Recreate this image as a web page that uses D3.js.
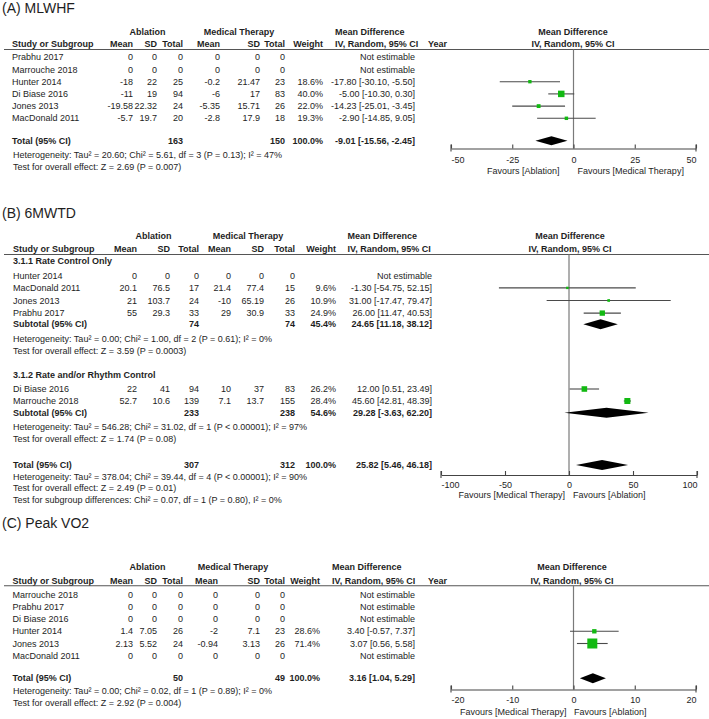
<!DOCTYPE html>
<html><head><meta charset="utf-8">
<script src="https://cdn.jsdelivr.net/npm/d3@7/dist/d3.min.js"></script>
<style>
body{margin:0;background:#fff}
text{font-family:"Liberation Sans",Arial,Helvetica,sans-serif;fill:#1e1e1e}
</style>
</head><body>
<svg id="chart" width="709" height="719"></svg>
<script>
// ---------------- DATA ----------------
const colHeaders = ["Mean","SD","Total","Mean","SD","Total","Weight"];

// (A) MLWHF
const studiesA  = ["Prabhu 2017","Marrouche 2018","Hunter 2014","Di Biase 2016","Jones 2013","MacDonald 2011"];
const ablMeanA  = [0, 0, -18, -11, -19.58, -5.7];
const ablSDA    = [0, 0, 22, 19, 22.32, 19.7];
const ablNA     = [0, 0, 25, 94, 24, 20];
const medMeanA  = [0, 0, -0.2, -6, -5.35, -2.8];
const medSDA    = [0, 0, 21.47, 17, 15.71, 17.9];
const medNA     = [0, 0, 23, 83, 26, 18];
const weightA   = [null, null, 18.6, 40.0, 22.0, 19.3];
const mdA       = [null, null, -17.80, -5.00, -14.23, -2.90];
const loA       = [null, null, -30.10, -10.30, -25.01, -14.85];
const hiA       = [null, null, -5.50, 0.30, -3.45, 9.05];
const totalNA   = [163, 150];
const totalEstA = [100.0, -9.01, -15.56, -2.45];
const notesA    = ["Heterogeneity: Tau² = 20.60; Chi² = 5.61, df = 3 (P = 0.13); I² = 47%",
                   "Test for overall effect: Z = 2.69 (P = 0.007)"];
const ticksA    = [-50, -25, 0, 25, 50];
const favoursA  = ["Favours [Ablation]", "Favours [Medical Therapy]"];

// (B) 6MWTD
const groupsB    = ["3.1.1 Rate Control Only", "3.1.2 Rate and/or Rhythm Control"];
const studiesB   = ["Hunter 2014","MacDonald 2011","Jones 2013","Prabhu 2017","Di Biase 2016","Marrouche 2018"];
const groupOfB   = [0, 0, 0, 0, 1, 1];
const ablMeanB   = [0, 20.1, 21, 55, 22, 52.7];
const ablSDB     = [0, 76.5, 103.7, 29.3, 41, 10.6];
const ablNB      = [0, 17, 24, 33, 94, 139];
const medMeanB   = [0, 21.4, -10, 29, 10, 7.1];
const medSDB     = [0, 77.4, 65.19, 30.9, 37, 13.7];
const medNB      = [0, 15, 26, 33, 83, 155];
const weightB    = [null, 9.6, 10.9, 24.9, 26.2, 28.4];
const mdB        = [null, -1.30, 31.00, 26.00, 12.00, 45.60];
const loB        = [null, -54.75, -17.47, 11.47, 0.51, 42.81];
const hiB        = [null, 52.15, 79.47, 40.53, 23.49, 48.39];
const subNB      = [[74, 74], [233, 238]];
const subEstB    = [[45.4, 24.65, 11.18, 38.12], [54.6, 29.28, -3.63, 62.20]];
const subNotesB  = [["Heterogeneity: Tau² = 0.00; Chi² = 1.00, df = 2 (P = 0.61); I² = 0%",
                     "Test for overall effect: Z = 3.59 (P = 0.0003)"],
                    ["Heterogeneity: Tau² = 546.28; Chi² = 31.02, df = 1 (P < 0.00001); I² = 97%",
                     "Test for overall effect: Z = 1.74 (P = 0.08)"]];
const totalNB    = [307, 312];
const totalEstB  = [100.0, 25.82, 5.46, 46.18];
const notesB     = ["Heterogeneity: Tau² = 378.04; Chi² = 39.44, df = 4 (P < 0.00001); I² = 90%",
                    "Test for overall effect: Z = 2.49 (P = 0.01)",
                    "Test for subgroup differences: Chi² = 0.07, df = 1 (P = 0.80), I² = 0%"];
const ticksB     = [-100, -50, 0, 50, 100];
const favoursB   = ["Favours [Medical Therapy]", "Favours [Ablation]"];

// (C) Peak VO2
const studiesC  = ["Marrouche 2018","Prabhu 2017","Di Biase 2016","Hunter 2014","Jones 2013","MacDonald 2011"];
const ablMeanC  = [0, 0, 0, 1.4, 2.13, 0];
const ablSDC    = [0, 0, 0, 7.05, 5.52, 0];
const ablNC     = [0, 0, 0, 26, 24, 0];
const medMeanC  = [0, 0, 0, -2, -0.94, 0];
const medSDC    = [0, 0, 0, 7.1, 3.13, 0];
const medNC     = [0, 0, 0, 23, 26, 0];
const weightC   = [null, null, null, 28.6, 71.4, null];
const mdC       = [null, null, null, 3.40, 3.07, null];
const loC       = [null, null, null, -0.57, 0.56, null];
const hiC       = [null, null, null, 7.37, 5.58, null];
const totalNC   = [50, 49];
const totalEstC = [100.0, 3.16, 1.04, 5.29];
const notesC    = ["Heterogeneity: Tau² = 0.00; Chi² = 0.02, df = 1 (P = 0.89); I² = 0%",
                   "Test for overall effect: Z = 2.92 (P = 0.004)"];
const ticksC    = [-20, -10, 0, 10, 20];
const favoursC  = ["Favours [Medical Therapy]", "Favours [Ablation]"];

// ---------------- HELPERS ----------------
const svg = d3.select("#chart");
const FS = 9;
const GREEN = "#12b912";
const f2 = v => v.toFixed(2);
const ciText = (md, lo, hi) => `${f2(md)} [${f2(lo)}, ${f2(hi)}]`;

function studyRow(label, i, arrs, y) {
  const [am, asd, an, mm, msd, mn, w, md, lo, hi] = arrs;
  return {kind: "study", y, label,
    vals: [am[i], asd[i], an[i], mm[i], msd[i], mn[i], w[i] == null ? "" : w[i].toFixed(1) + "%"].map(String),
    ci: w[i] == null ? "Not estimable" : ciText(md[i], lo[i], hi[i]),
    w: w[i], md: md[i], lo: lo[i], hi: hi[i]};
}
function totalRow(label, ns, est, y) {
  return {kind: "total", y, label,
    vals: ["", "", String(ns[0]), "", "", String(ns[1]), est[0].toFixed(1) + "%"],
    ci: ciText(est[1], est[2], est[3]), md: est[1], lo: est[2], hi: est[3]};
}

function drawPanel(p) {
  const g = svg.append("g");
  const t = (x, y, s, opt = {}) => g.append("text").attr("x", x).attr("y", y).attr("dy", "0.35em")
      .attr("font-size", opt.size || FS).attr("font-weight", opt.bold ? "bold" : null)
      .attr("text-anchor", opt.anchor || "start").text(s);

  g.append("text").attr("x", 2).attr("y", p.titleY).attr("font-size", 14).text(p.title);

  // headers
  t(p.ablC, p.h1, "Ablation", {bold: 1, anchor: "middle"});
  t(p.medC, p.h1, "Medical Therapy", {bold: 1, anchor: "middle"});
  t(p.mdHdrX, p.h1, "Mean Difference", {bold: 1});
  t(p.nameX, p.h2, "Study or Subgroup", {bold: 1});
  colHeaders.forEach((h, k) => t(p.colX[k], p.h2, h, {bold: 1, anchor: "end"}));
  t(p.mdHdrX, p.h2, "IV, Random, 95% CI", {bold: 1});
  if (p.yearX) t(p.yearX, p.h2, "Year", {bold: 1});
  t(p.plotHdrX, p.h1, "Mean Difference", {bold: 1, anchor: "middle"});
  t(p.plotHdrX, p.h2, "IV, Random, 95% CI", {bold: 1, anchor: "middle"});

  g.append("line").attr("x1", 4).attr("x2", 709).attr("y1", p.lineY).attr("y2", p.lineY)
    .attr("stroke", "#555").attr("stroke-width", 1.1);

  const x = d3.scaleLinear().domain(p.domain).range(p.range);
  const maxW = d3.max(p.rows.filter(r => r.kind === "study" && r.w != null), r => r.w);
  const side = d3.scaleLinear().domain([0, maxW]).range([0.6, p.maxSide]);

  // zero line
  g.append("line").attr("x1", x(0)).attr("x2", x(0)).attr("y1", p.lineY).attr("y2", p.axisY)
    .attr("stroke", "#7a7a7a").attr("stroke-width", 1.2);

  p.rows.forEach(r => {
    if (r.kind === "group") { t(p.nameX, r.y, r.label, {bold: 1}); return; }
    if (r.kind === "note") { t(p.noteX, r.y, r.label); return; }
    const bold = r.kind === "total";
    t(p.nameX, r.y, r.label, {bold});
    r.vals.forEach((v, k) => { if (v !== "") t(p.colX[k], r.y, v, {bold, anchor: "end"}); });
    t(p.ciX, r.y, r.ci, {bold, anchor: "end"});
    if (r.kind === "study" && r.w != null) {
      g.append("line").attr("x1", x(r.lo)).attr("x2", x(r.hi)).attr("y1", r.y).attr("y2", r.y)
        .attr("stroke", "#4a4a4a").attr("stroke-width", 1.1);
      const s = side(r.w);
      g.append("rect").attr("x", x(r.md) - s / 2).attr("y", r.y - s / 2).attr("width", s).attr("height", s)
        .attr("fill", GREEN);
    }
    if (r.kind === "total") {
      const h = p.diamondH / 2;
      g.append("path").attr("d", `M${x(r.lo)},${r.y}L${x(r.md)},${r.y - h}L${x(r.hi)},${r.y}L${x(r.md)},${r.y + h}Z`)
        .attr("fill", "#000");
    }
  });

  // axis
  const ax = g.append("g").attr("transform", `translate(0,${p.axisY})`)
    .call(d3.axisBottom(x).tickValues(p.ticks).tickSizeInner(-4).tickSizeOuter(0).tickPadding(p.tickPad)
      .tickFormat(d3.format("d")));
  ax.select(".domain").attr("stroke", "#444").attr("stroke-width", 1.1);
  ax.selectAll(".tick line").attr("stroke", "#444").attr("stroke-width", 1.1);
  ax.selectAll(".tick text").attr("font-size", FS).attr("font-family", null).attr("fill", "#1e1e1e")
    .attr("text-anchor", (d, i, n) => i === 0 ? "start" : (i === n.length - 1 ? "end" : "middle"))
    .text(d => String(d).replace("−", "-"));
  // end ticks crossing
  [p.ticks[0], p.ticks[p.ticks.length - 1]].forEach(v =>
    g.append("line").attr("x1", x(v)).attr("x2", x(v)).attr("y1", p.axisY - 4).attr("y2", p.axisY + 3)
      .attr("stroke", "#444").attr("stroke-width", 1.1));

  t(x(0) - p.favOff[0], p.axisY + p.favDy, p.favours[0], {anchor: "end"});
  t(x(0) + p.favOff[1], p.axisY + p.favDy, p.favours[1], {anchor: "start"});
}

// ---------------- PANEL A ----------------
const arrA = [ablMeanA, ablSDA, ablNA, medMeanA, medSDA, medNA, weightA, mdA, loA, hiA];
const rowYA = [57.3, 69.5, 81.7, 93.9, 106.1, 118.3];
const rowsA = studiesA.map((s, i) => studyRow(s, i, arrA, rowYA[i]));
rowsA.push(totalRow("Total (95% CI)", totalNA, totalEstA, 140.7));
rowsA.push({kind: "note", y: 155, label: notesA[0]}, {kind: "note", y: 167, label: notesA[1]});

drawPanel({title: "(A) MLWHF", titleY: 13, h1: 32.3, h2: 44, lineY: 49.5,
  nameX: 12, noteX: 13, ablC: 147.5, medC: 239,
  colX: [133, 157, 183, 220, 260, 285, 323], ciX: 415, mdHdrX: 335, yearX: 428, plotHdrX: 573,
  domain: [-50, 50], range: [451, 696], ticks: ticksA, axisY: 148.5, tickPad: 8, favDy: 22.5,
  favours: favoursA, favOff: [14, 4], rows: rowsA, maxSide: 6.5, diamondH: 9});

// ---------------- PANEL B ----------------
const arrB = [ablMeanB, ablSDB, ablNB, medMeanB, medSDB, medNB, weightB, mdB, loB, hiB];
const rowYB = [275.7, 287.9, 300.5, 313.1, 389, 401];
const groupYB = [[261, 324.3, 339, 351], [375, 412.7, 427.3, 439.3]];
const rowsB = [];
groupsB.forEach((gname, gi) => {
  const [hy, sy, n1, n2] = groupYB[gi];
  rowsB.push({kind: "group", y: hy, label: gname});
  studiesB.forEach((s, i) => { if (groupOfB[i] === gi) rowsB.push(studyRow(s, i, arrB, rowYB[i])); });
  rowsB.push(totalRow("Subtotal (95% CI)", subNB[gi], subEstB[gi], sy));
  rowsB.push({kind: "note", y: n1, label: subNotesB[gi][0]}, {kind: "note", y: n2, label: subNotesB[gi][1]});
});
rowsB.push(totalRow("Total (95% CI)", totalNB, totalEstB, 465));
[476.7, 488.3, 500].forEach((y, k) => rowsB.push({kind: "note", y, label: notesB[k]}));

drawPanel({title: "(B) 6MWTD", titleY: 218, h1: 236, h2: 248.7, lineY: 254.5,
  nameX: 13, noteX: 13, ablC: 153.5, medC: 248,
  colX: [137, 170, 199, 231, 264, 295, 336], ciX: 432, mdHdrX: 347.5, yearX: null, plotHdrX: 570,
  domain: [-100, 100], range: [441, 697], ticks: ticksB, axisY: 475, tickPad: 7, favDy: 20,
  favours: favoursB, favOff: [4, 4], rows: rowsB, maxSide: 6, diamondH: 10});

// ---------------- PANEL C ----------------
const arrC = [ablMeanC, ablSDC, ablNC, medMeanC, medSDC, medNC, weightC, mdC, loC, hiC];
const rowYC = [594.5, 606.7, 618.9, 631.3, 643.5, 655.7];
const rowsC = studiesC.map((s, i) => studyRow(s, i, arrC, rowYC[i]));
rowsC.push(totalRow("Total (95% CI)", totalNC, totalEstC, 678.3));
rowsC.push({kind: "note", y: 691, label: notesC[0]}, {kind: "note", y: 703.3, label: notesC[1]});

drawPanel({title: "(C) Peak VO2", titleY: 527.5, h1: 567, h2: 581, lineY: 585.8,
  nameX: 12.5, noteX: 13, ablC: 147.5, medC: 233,
  colX: [133, 157, 183, 218, 260, 285, 320], ciX: 415, mdHdrX: 332, yearX: 428, plotHdrX: 572,
  domain: [-20, 20], range: [451, 696], ticks: ticksC, axisY: 689.5, tickPad: 7, favDy: 22,
  favours: favoursC, favOff: [7, 0.5], rows: rowsC, maxSide: 10, diamondH: 10});
</script>
</body></html>
